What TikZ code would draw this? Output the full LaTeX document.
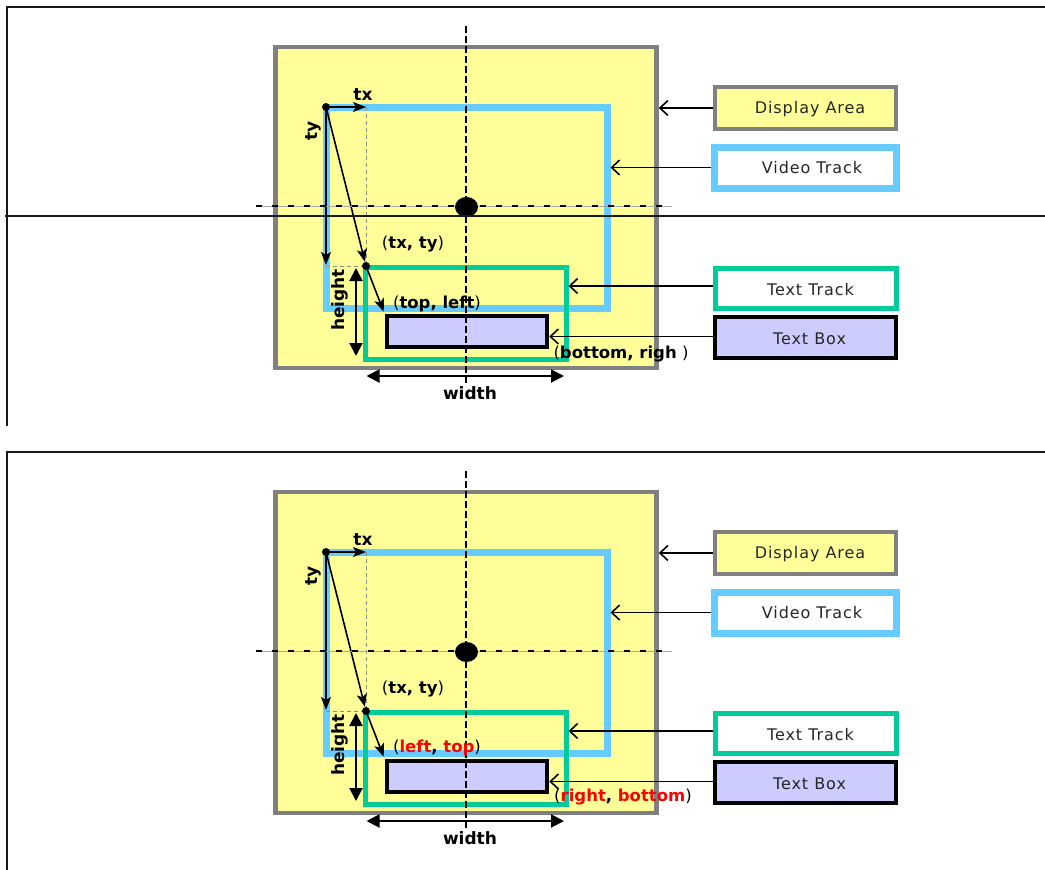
\documentclass[tikz,border=0pt]{standalone}
\usepackage{fontspec}
\setmainfont{DejaVu Sans}
\usetikzlibrary{arrows.meta,shapes.geometric}
\definecolor{dayellow}{HTML}{FFFF99}
\definecolor{dagray}{HTML}{808080}
\definecolor{vtblue}{HTML}{66CCFF}
\definecolor{ttgreen}{HTML}{00CC99}
\definecolor{tblav}{HTML}{CCCCFF}
\tikzset{
  dispbox/.style={draw=dagray, fill=dayellow, line width=4.5pt, inner sep=0pt},
  vidbox/.style={draw=vtblue, line width=7pt, inner sep=0pt},
  trackbox/.style={draw=ttgreen, line width=5pt, inner sep=0pt},
  textboxs/.style={draw=black, fill=tblav, line width=4.5pt, inner sep=0pt},
  legtxt/.style={font=\fontsize{16}{19}\selectfont\addfontfeature{LetterSpace=6}, text=black!85},
  lbl/.style={font=\fontsize{17}{20}\selectfont\bfseries, inner sep=0pt},
  plbl/.style={font=\fontsize{16.5}{19}\selectfont, inner sep=0pt},
  dotn/.style={circle, fill=black, inner sep=0pt, minimum size=8pt},
  offarrow/.style={line width=1.6pt, -{Stealth[length=13pt,width=10pt,inset=3pt]}},
  dimarrow/.style={line width=2pt, {Triangle[length=13pt,width=13pt]}-{Triangle[length=13pt,width=13pt]}},
  legarrow/.style={line width=1.6pt, -{Straight Barb[length=8pt,width=15pt]}},
  frameline/.style={line width=2pt, draw=black!90},
  guide/.style={draw=black!45, line width=1pt, dash pattern=on 4pt off 3pt},
}
\newcommand{\drawpanel}[4]{%
\begin{scope}[yshift=#2]
  % main boxes
  \node[dispbox, minimum width=381pt, minimum height=321pt] (da#1) at (466,207.5) {};
  \node[vidbox, minimum width=281pt, minimum height=201pt] (vt#1) at (466.5,207.5) {};
  \node[trackbox, minimum width=201pt, minimum height=92pt] (tt#1) at (465.5,313) {};
  \node[textboxs, minimum width=160pt, minimum height=31pt] (tb#1) at (467,331.5) {};
  % legend boxes
  \node[dispbox, minimum width=181pt, minimum height=42pt] (lda#1) at (805.5,108) {};
  \node[legtxt] at (810,109) {Display Area};
  \node[vidbox, fill=white, minimum width=182pt, minimum height=41pt] (lvt#1) at (805.5,167.5) {};
  \node[legtxt] at (812,168) {Video Track};
  \node[trackbox, fill=white, minimum width=181pt, minimum height=40pt] (ltt#1) at (805.5,288) {};
  \node[legtxt] at (810.5,290) {Text Track};
  \node[textboxs, minimum width=181pt, minimum height=41pt] (ltb#1) at (805.5,337.5) {};
  \node[legtxt] at (809.5,339) {Text Box};
  % legend arrows
  \draw[legarrow] (lda#1.west) -- (lda#1.west -| da#1.east);
  \draw[legarrow] (lvt#1.west) -- (lvt#1.west -| vt#1.east);
  \draw[legarrow] (ltt#1.west) ++(0,-2) coordinate (ltts#1) -- (ltts#1 -| tt#1.east);
  \draw[legarrow] (ltb#1.west) ++(0,-1) coordinate (ltbs#1) -- (ltbs#1 -| tb#1.east);
  % offset construction
  \node[dotn] (p#1) at (326,107) {};
  \node[dotn] (q#1) at (366,266) {};
  \draw[guide] (p#1 -| q#1) -- (q#1);
  \draw[guide] (p#1 |- q#1) -- (q#1);
  \draw[offarrow] (p#1.center) -- (p#1 -| q#1);
  \draw[offarrow] (p#1.center) -- ([yshift=1pt]p#1 |- q#1);
  \draw[offarrow] (p#1.center) -- (q#1);
  \draw[offarrow] (q#1.center) -- ([xshift=-1pt,yshift=2pt]tb#1.north west);
  \node[lbl] (txl#1) at (363,95) {tx};
  \node[lbl, rotate=90] (tyl#1) at (313,131) {ty};
  % dimension arrows
  \coordinate (ht#1) at (356,268);
  \coordinate (hb#1) at (356,356);
  \draw[dimarrow] (ht#1) -- (hb#1);
  \node[lbl, rotate=90] (hl#1) at (340,300) {height};
  \coordinate (wl#1) at (366.5,376);
  \coordinate (wr#1) at (564,376);
  \draw[dimarrow] (wl#1) -- (wr#1);
  \node[lbl] (wlab#1) at (470,393) {width};
  % centre lines
  \draw[black!35, line width=1pt] (256,206) -- (672,206);
  \draw[black, line width=1.5pt, dash pattern=on 6pt off 10pt] (256,206) -- (672,206);
  \draw[black, line width=2pt, dash pattern=on 7pt off 3pt] (466,26) -- (466,385);
  \node[fill=black, ellipse, minimum width=23pt, minimum height=20pt, inner sep=0pt] (c#1) at (466.5,207) {};
  % coordinate labels
  \node[plbl] (txy#1) at (413,244) {(\textbf{tx, ty})};
  \node[plbl] (tl#1) at (437,#3) {#4};
}
\newcommand{\brlabel}[3]{\node[plbl] (br#1) at (#2) {#3};\end{scope}}
\begin{document}
\begin{tikzpicture}[x=1pt, y=-1pt]
\useasboundingbox (0,0) rectangle (1045,870);
\drawpanel{a}{0pt}{304}{(\textbf{top, left})}
\brlabel{a}{621,354}{(\textbf{bottom, righ} )}
\drawpanel{b}{-445pt}{303}{(\textbf{\textcolor{red}{left}, \textcolor{red}{top}})}
\brlabel{b}{623,352}{(\textbf{\textcolor{red}{right}, \textcolor{red}{bottom}})}
\draw[frameline] (1045,7) -- (7,7) -- (7,426);
\draw[frameline] (5,215.5) -- (1045,215.5);
\draw[frameline] (1045,452) -- (7,452) -- (7,870);
\end{tikzpicture}
\end{document}
